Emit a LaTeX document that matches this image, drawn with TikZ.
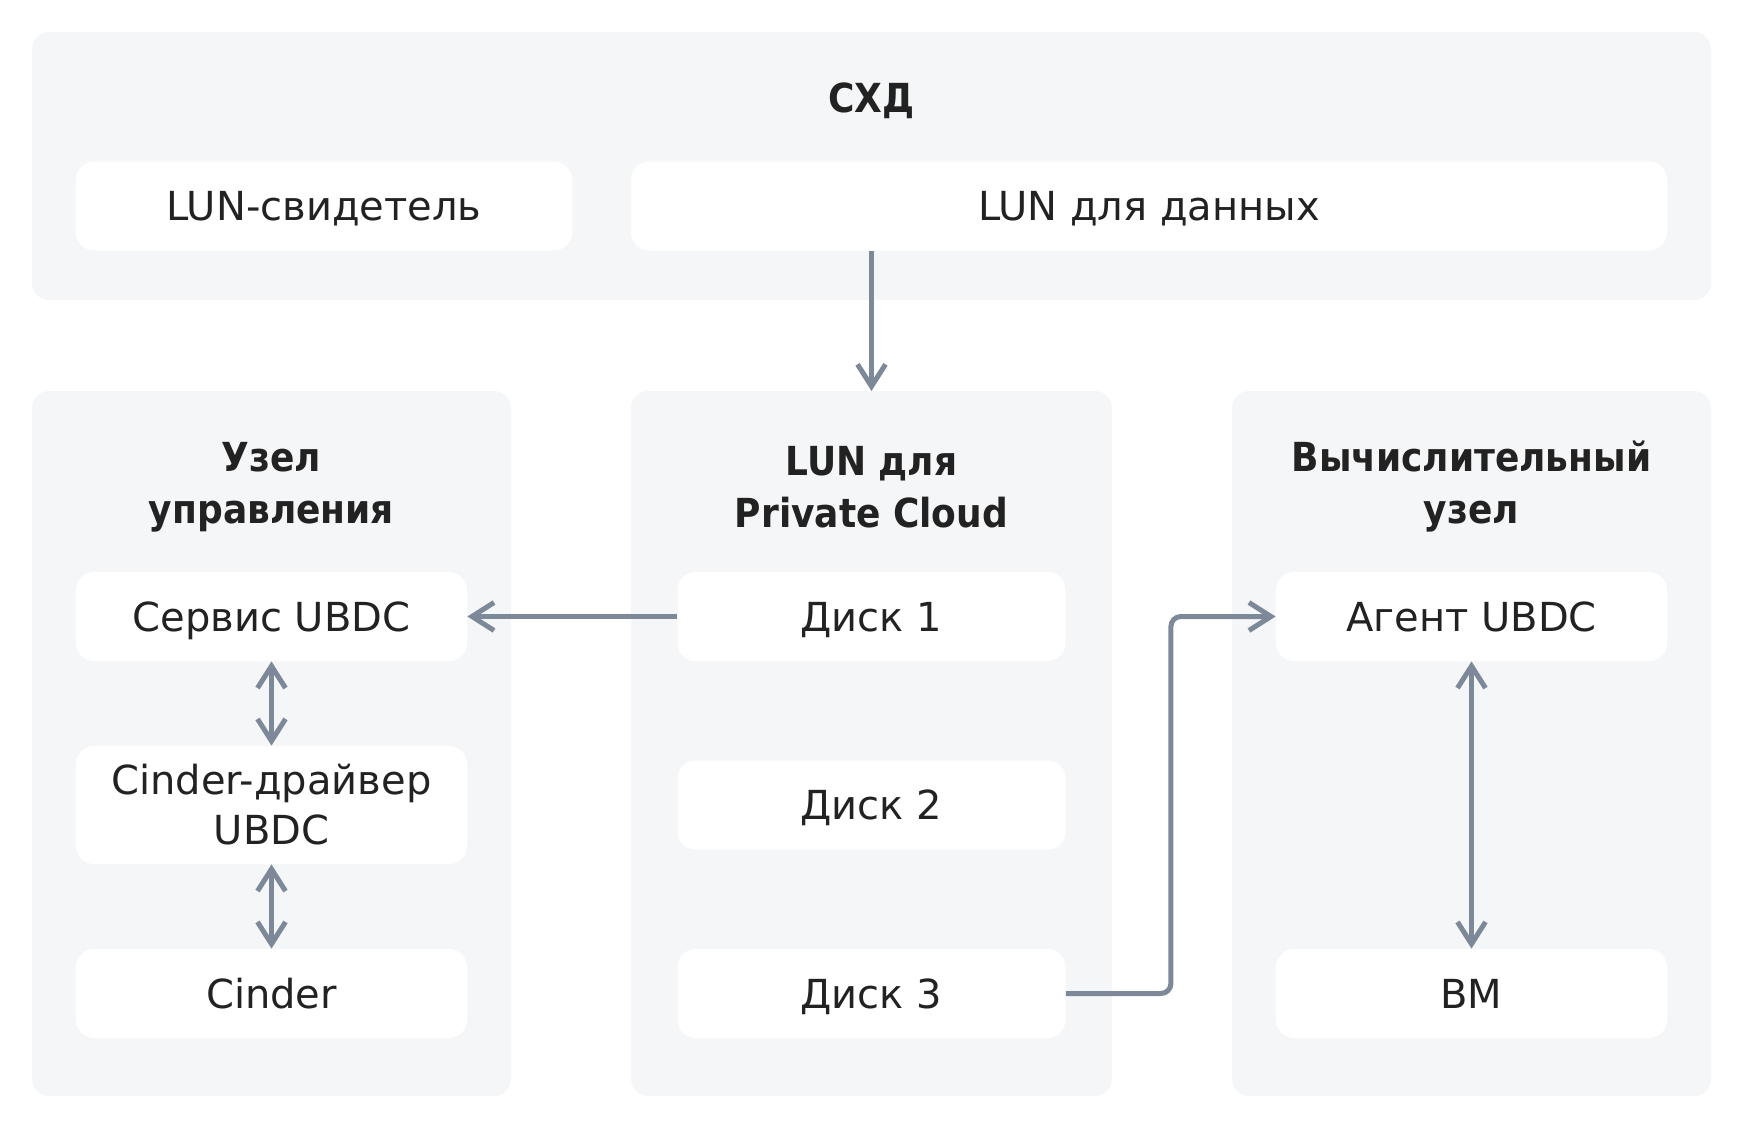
\documentclass[tikz,border=0pt]{standalone}
\usepackage{fontspec}
\setmainfont{DejaVu Sans}
\newfontfamily\headfont{DejaVu Sans Condensed}
\usetikzlibrary{arrows.meta}
\definecolor{panelgray}{HTML}{F5F6F8}
\definecolor{linkgray}{HTML}{7D8999}
\definecolor{inkdark}{HTML}{222222}
\tikzset{
  panel/.style={fill=panelgray, rounded corners=8.5pt},
  box/.style={fill=white, rounded corners=9pt, inner sep=0pt, minimum width=195.5pt,
    minimum height=44.5pt, align=center, text=inkdark, font=\fontsize{20}{25}\selectfont},
  onebox/.style={box, text height=14.6pt, text depth=0pt},
  title/.style={align=center, text=inkdark, font=\headfont\bfseries\fontsize{20}{26}\selectfont},
  link/.style={draw=linkgray, line width=2.5pt, -{Straight Barb[length=11pt,width=14pt]}},
  link2/.style={link, {Straight Barb[length=11pt,width=14pt]}-{Straight Barb[length=11pt,width=14pt]}}
}
\begin{document}
\begin{tikzpicture}[x=0.5pt,y=-0.5pt]
\useasboundingbox (0,0) rectangle (1740,1140);
\fill[panel] (32,32) rectangle (1711,300);
\fill[panel] (32,391) rectangle (511,1096);
\fill[panel] (631,391) rectangle (1112,1096);
\fill[panel] (1232,391) rectangle (1711,1096);
\node[title] (shd) at (871.5,101) {СХД};
\node[title] (mgmt) at (271.5,487) {Узел\\управления};
\node[title] (pcl) at (871.5,487) {LUN для\\Private Cloud};
\node[title] (comp) at (1471.5,487) {Вычислительный\\узел};
\node[onebox, minimum width=248pt] (wit) at (324,206) {LUN-свидетель};
\node[onebox, minimum width=518pt] (data) at (1149,206) {LUN для данных};
\node[onebox] (srv) at (271.5,616.5) {Сервис UBDC};
\node[box, minimum height=59pt] (drv) at (271.5,805) {Cinder-драйвер\\UBDC};
\node[onebox] (cin) at (271.5,993.5) {Cinder};
\node[onebox, minimum width=194pt] (d1) at (871.5,616.5) {Диск 1};
\node[onebox, minimum width=194pt] (d2) at (871.5,805) {Диск 2};
\node[onebox, minimum width=194pt] (d3) at (871.5,993.5) {Диск 3};
\node[onebox] (agt) at (1471.5,616.5) {Агент UBDC};
\node[onebox] (vm) at (1471.5,993.5) {ВМ};
\coordinate (pctop) at (871.5,391);
\draw[link] (pctop |- data.south) -- (pctop);
\draw[link] (d1.west) -- (srv.east);
\draw[link2] (srv.south) -- (drv.north);
\draw[link2] (drv.south) -- (cin.north);
\draw[link2] (agt.south) -- (vm.north);
\draw[link, rounded corners=5pt] (d3.east) -- ++(105,0) |- (agt.west);
\end{tikzpicture}
\end{document}
